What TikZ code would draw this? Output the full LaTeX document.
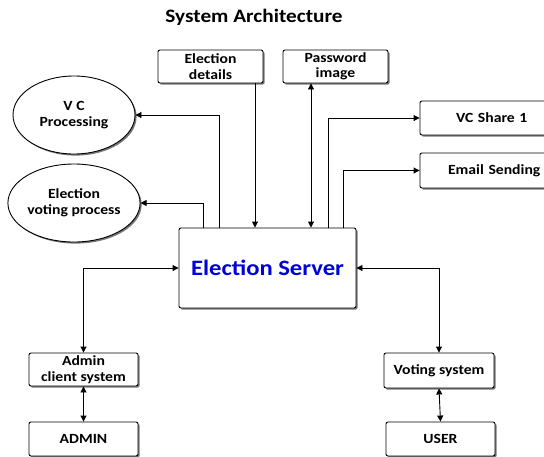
\documentclass[tikz,border=0pt]{standalone}
\usepackage{fontspec}
\setmainfont{Carlito}[FakeStretch=1.12]
\usetikzlibrary{arrows.meta,shadows,shapes.geometric}
\begin{document}
\begin{tikzpicture}[x=1pt,y=-1pt,
  shd/.style={drop shadow={shadow xshift=1.6pt,shadow yshift=-1.6pt,opacity=0.75,fill=black!70}},
  box/.style={draw,line width=0.9pt,rounded corners=2pt,fill=white,align=center,inner sep=0pt,
    font=\bfseries\fontsize{14}{15.5}\selectfont,shd},
  oval/.style={draw,ellipse,line width=0.9pt,fill=white,align=center,inner sep=0pt,
    minimum width=122pt,minimum height=78pt,font=\bfseries\fontsize{14}{15.5}\selectfont,shd},
  conn/.style={line width=0.9pt,-{Triangle[length=6pt,width=6pt]}},
  dconn/.style={line width=0.9pt,{Triangle[length=6pt,width=6pt]}-{Triangle[length=6pt,width=6pt]}}]
\clip (0,0) rectangle (544,456);
\fill[white] (0,0) rectangle (544,456);

\node[font=\bfseries\fontsize{19}{22}\selectfont] (title) at (254,17) {System Architecture};

\node[box,minimum width=105pt,minimum height=33pt] (edet) at (210.5,66.5) {Election\\details};
\node[box,minimum width=105pt,minimum height=33pt] (pimg) at (335.5,66.5) {Password\\image};
\node[oval] (vcp) at (74,115) {V C\\Processing};
\node[oval] (evp) at (74,203) {Election\\voting process};
\node[box,minimum width=140pt,minimum height=34pt,text width=130pt,align=left] (vcs) at (490,118) {\hspace*{31pt}VC Share 1};
\node[box,minimum width=140pt,minimum height=35pt,text width=130pt,align=left] (email) at (490,170.5) {\hspace*{23pt}Email Sending};
\node[box,minimum width=177pt,minimum height=80pt,text=blue!85!black,
  font=\bfseries\fontsize{22}{26}\selectfont] (server) at (267.5,268) {Election Server};
\node[box,minimum width=109pt,minimum height=33pt] (acs) at (83.5,369.5) {Admin\\client system};
\node[box,minimum width=109pt,minimum height=34pt] (admin) at (83.5,439) {ADMIN};
\node[box,minimum width=110pt,minimum height=35pt] (vs) at (439,370.5) {Voting system};
\node[box,minimum width=109pt,minimum height=34pt] (user) at (440.5,439) {USER};

\draw[conn] (edet.south -| 255,0) -- (server.north -| 255,0);
\draw[dconn] (pimg.south -| 311,0) -- (server.north -| 311,0);
\draw[conn] (server.north -| 219,0) |- (vcp.east);
\draw[conn] (server.north -| 203,0) |- (evp.east);
\draw[conn] (server.north -| 328,0) |- (vcs.west);
\draw[conn] (server.north -| 343,0) |- (email.west);
\draw[dconn] (server.west) -| (acs.north);
\draw[dconn] (server.east) -| (vs.north);
\draw[dconn] (acs.south) -- (admin.north);
\draw[dconn] (vs.south) -- (user.north);
\end{tikzpicture}
\end{document}
